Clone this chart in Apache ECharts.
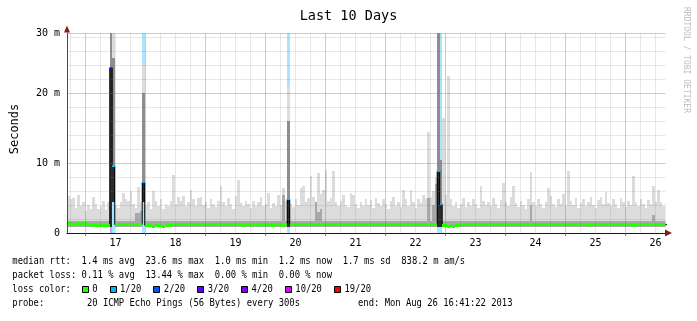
<!DOCTYPE html>
<html>
<head>
<meta charset="utf-8">
<title>Last 10 Days</title>
<script src="https://cdn.jsdelivr.net/npm/echarts@6.0.0/dist/echarts.min.js"></script>
<style>
html,body{margin:0;padding:0;background:#ffffff;}
#chart{width:697px;height:321px;}
</style>
</head>
<body>
<div id="chart"></div>
<script>
// ---------------- data ----------------
// time unit: fractional day of August 2013 (17.5 = Aug 17 12:00)
const axisStart = 16.69167;
const axisEnd = 26.66667;
const sampleStart = 16.69539;          // Aug 16 16:41:22 2013, first hourly sample
const sampleStepHours = 1;
const dayLabels = [17, 18, 19, 20, 21, 22, 23, 24, 25, 26];

// y axis (milliseconds); plot top sits at 28.6 ms, labelled "30 m"
const yTop = 200 / 7;
const yLabelValues = [0, 10, 20, yTop];
const yLabelTexts = ['0', '10 m', '20 m', '30 m'];

// hourly samples, one row per day (24 samples)
const pingMax = [
  5.3,4.8,5.0,3.6,5.4,3.9,4.4,3.2,4.0,3.5,5.2,4.1,3.4,3.9,4.6,3.3,4.4,31,31,4.0,3.6,4.4,5.7,4.9,
  4.6,6.0,4.2,3.6,6.6,4.5,23.8,4.0,4.4,3.5,6.0,4.6,3.8,4.8,3.4,4.2,3.9,4.6,8.3,4.1,5.2,4.6,5.3,3.8,
  4.4,6.1,4.8,3.9,5.0,5.2,4.0,4.5,3.6,4.9,4.2,3.7,4.6,6.7,4.4,3.8,5.0,4.1,3.5,5.3,7.6,4.3,3.9,4.6,
  4.2,3.6,4.6,3.9,4.4,5.2,3.8,4.1,5.7,3.6,4.3,3.9,5.4,4.0,6.4,4.6,21,4.2,3.7,4.8,4.0,6.4,6.7,4.5,
  5.0,8.1,5.2,4.4,8.6,5.6,6.2,9.0,4.6,5.0,8.8,4.5,3.8,4.6,5.5,4.0,3.7,5.7,5.4,4.2,3.6,4.4,3.9,4.8,
  4.0,4.7,3.6,5.0,4.3,3.8,4.9,4.2,3.5,4.6,5.1,3.9,4.4,3.7,6.2,4.8,3.9,6.2,4.5,3.6,4.9,4.3,5.4,5.0,
  14.5,5.2,6.0,8.0,31,10.4,16.4,5.5,22.4,4.8,3.8,4.5,3.6,4.2,5.0,3.7,4.4,3.9,4.8,4.1,3.6,6.7,4.6,4.0,
  4.4,3.8,5.0,4.2,3.6,4.7,7.2,4.5,3.9,5.1,6.7,4.3,3.7,4.6,4.0,3.5,4.8,8.7,4.4,3.8,4.9,4.2,3.6,4.5,
  6.4,5.3,4.2,3.7,4.8,4.1,5.6,3.9,8.8,4.6,4.0,5.0,3.6,4.3,4.9,3.8,4.4,5.2,4.0,3.6,4.7,5.1,4.2,5.8,
  4.3,3.8,4.9,4.1,3.6,5.0,4.4,3.7,4.6,4.0,8.1,4.5,3.9,4.8,4.2,3.6,4.7,4.1,6.7,4.4,6.2,4.5,3.9,4.3
];
const pingMin = [
  0.85,0.85,0.85,0.85,0.85,0.85,0.85,0.85,0.85,0.85,0.85,0.85,0.85,0.85,0.85,0.85,0.85,0.9,4.5,0.85,0.85,0.85,0.85,0.85,
  0.85,0.85,0.85,0.85,0.85,0.85,4.5,0.85,0.85,0.85,0.85,0.85,0.85,0.85,0.85,0.85,0.85,0.85,0.85,0.85,0.85,0.85,0.85,0.85,
  0.85,0.85,0.85,0.85,0.85,0.85,0.85,0.85,0.85,0.85,0.85,0.85,0.85,0.85,0.85,0.85,0.85,0.85,0.85,0.85,0.85,0.85,0.85,0.85,
  0.85,0.85,0.85,0.85,0.85,0.85,0.85,0.85,0.85,0.85,0.85,0.85,0.85,0.85,0.85,0.85,0.9,0.85,0.85,0.85,0.85,0.85,0.85,0.85,
  0.85,0.85,0.85,0.85,0.85,0.85,0.85,0.85,0.85,0.85,0.85,0.85,0.85,0.85,0.85,0.85,0.85,0.85,0.85,0.85,0.85,0.85,0.85,0.85,
  0.85,0.85,0.85,0.85,0.85,0.85,0.85,0.85,0.85,0.85,0.85,0.85,0.85,0.85,0.85,0.85,0.85,0.85,0.85,0.85,0.85,0.85,0.85,0.85,
  0.85,0.85,0.85,0.85,0.9,0.9,0.85,0.85,0.85,0.85,0.85,0.85,0.85,0.85,0.85,0.85,0.85,0.85,0.85,0.85,0.85,0.85,0.85,0.85,
  0.85,0.85,0.85,0.85,0.85,0.85,0.85,0.85,0.85,0.85,0.85,0.85,0.85,0.85,0.85,0.85,0.85,0.85,0.85,0.85,0.85,0.85,0.85,0.85,
  0.85,0.85,0.85,0.85,0.85,0.85,0.85,0.85,0.85,0.85,0.85,0.85,0.85,0.85,0.85,0.85,0.85,0.85,0.85,0.85,0.85,0.85,0.85,0.85,
  0.85,0.85,0.85,0.85,0.85,0.85,0.85,0.85,0.85,0.85,0.85,0.85,0.85,0.85,0.85,0.85,0.85,0.85,0.85,0.85,0.85,0.85,0.85,0.85
];
// upper edge of the dense (darker) part of the smoke
const pingUpper = [
  1.7,1.7,1.7,1.7,1.7,1.7,1.7,1.7,1.7,1.7,1.7,1.7,1.7,1.7,1.7,1.7,1.7,31,25,1.7,1.7,1.7,1.7,1.7,
  1.7,1.7,1.7,2.8,2.8,3.2,20,1.7,1.7,1.7,1.7,1.7,1.7,1.7,1.7,1.7,1.7,1.7,1.7,1.7,1.7,1.7,1.7,1.7,
  1.7,1.7,1.7,1.7,1.7,1.7,1.7,1.7,1.7,1.7,1.7,1.7,1.7,1.7,1.7,1.7,1.7,1.7,1.7,1.7,1.7,1.7,1.7,1.7,
  1.7,1.7,1.7,1.7,1.7,1.7,1.7,1.7,1.7,1.7,1.7,1.7,1.7,1.7,5.5,1.7,16,1.7,1.7,1.7,1.7,1.7,1.7,1.7,
  1.7,1.7,1.7,4.5,3.0,3.5,1.7,1.7,1.7,1.7,1.7,1.7,1.7,1.7,1.7,1.7,1.7,1.7,1.7,1.7,1.7,1.7,1.7,1.7,
  1.7,1.7,1.7,1.7,1.7,1.7,1.7,1.7,1.7,1.7,1.7,1.7,1.7,1.7,1.7,1.7,1.7,1.7,1.7,1.7,1.7,1.7,1.7,1.7,
  5.0,1.7,4.0,7.0,31,10.4,1.7,1.7,1.7,1.7,1.7,1.7,1.7,1.7,1.7,1.7,1.7,1.7,1.7,1.7,1.7,1.7,1.7,1.7,
  1.7,1.7,1.7,1.7,1.7,1.7,1.7,1.7,1.7,1.7,1.7,1.7,1.7,1.7,1.7,1.7,1.7,4.0,1.7,1.7,1.7,1.7,1.7,1.7,
  1.7,1.7,1.7,1.7,1.7,1.7,1.7,1.7,1.7,1.7,1.7,1.7,1.7,1.7,1.7,1.7,1.7,1.7,1.7,1.7,1.7,1.7,1.7,1.7,
  1.7,1.7,1.7,1.7,1.7,1.7,1.7,1.7,1.7,1.7,1.7,1.7,1.7,1.7,1.7,1.7,1.7,1.7,2.6,1.7,1.7,1.7,1.7,1.7
];
const median = [
  1.3,1.3,1.28,1.3,1.3,1.27,1.3,1.3,1.28,1.2,1.12,1.1,1.12,1.1,1.12,1.14,1.12,23.6,9.6,1.2,1.2,1.18,1.2,1.2,
  1.2,1.22,1.2,1.18,1.2,1.2,7.3,1.1,1.05,1.02,1.0,1.02,1.05,1.03,1.0,1.02,1.05,1.08,1.2,1.22,1.24,1.22,1.24,1.24,
  1.24,1.26,1.24,1.22,1.24,1.26,1.24,1.22,1.24,1.24,1.26,1.24,1.22,1.2,1.22,1.24,1.24,1.22,1.2,1.18,1.16,1.15,1.14,1.15,
  1.15,1.14,1.16,1.15,1.14,1.15,1.16,1.14,1.15,1.16,1.14,1.15,1.15,1.16,1.14,1.15,4.86,1.22,1.24,1.25,1.24,1.22,1.24,1.25,
  1.24,1.26,1.24,1.22,1.24,1.26,1.25,1.24,1.22,1.24,1.26,1.24,1.25,1.22,1.24,1.26,1.24,1.22,1.24,1.25,1.24,1.22,1.2,1.22,
  1.2,1.22,1.2,1.18,1.2,1.22,1.2,1.18,1.2,1.22,1.24,1.22,1.2,1.18,1.2,1.22,1.2,1.18,1.2,1.22,1.2,1.18,1.2,1.2,
  1.2,1.22,1.2,1.2,8.86,4.1,1.05,1.02,1.0,1.02,1.0,1.05,1.08,1.15,1.18,1.2,1.22,1.2,1.22,1.24,1.22,1.2,1.22,1.24,
  1.22,1.2,1.22,1.24,1.22,1.2,1.18,1.2,1.22,1.2,1.18,1.2,1.22,1.24,1.22,1.2,1.18,1.2,1.22,1.2,1.18,1.16,1.18,1.2,
  1.2,1.22,1.2,1.18,1.16,1.18,1.2,1.22,1.2,1.18,1.2,1.22,1.24,1.22,1.2,1.18,1.16,1.14,1.16,1.18,1.2,1.22,1.2,1.18,
  1.16,1.15,1.16,1.18,1.2,1.22,1.2,1.18,1.16,1.15,1.14,1.16,1.18,1.2,1.18,1.16,1.15,1.16,1.18,1.2,1.22,1.2,1.18,1.2
];
// lost pings out of 20 per sample
const lostPings = [
  0,0,0,0,0,0,0,0,0,0,0,0,0,0,0,0,0,3,1,0,0,0,0,0,
  0,0,0,0,0,0,1,0,0,0,0,0,0,0,0,0,0,0,0,0,0,0,0,0,
  0,0,0,0,0,0,0,0,0,0,0,0,0,0,0,0,0,0,0,0,0,0,0,0,
  0,0,0,0,0,0,0,0,0,0,0,0,0,0,0,0,1,0,0,0,0,0,0,0,
  0,0,0,0,0,0,0,0,0,0,0,0,0,0,0,0,0,0,0,0,0,0,0,0,
  0,0,0,0,0,0,0,0,0,0,0,0,0,0,0,0,0,0,0,0,0,0,0,0,
  0,0,0,0,1,1,0,0,0,0,0,0,0,0,0,0,0,0,0,0,0,0,0,0,
  0,0,0,0,0,0,0,0,0,0,0,0,0,0,0,0,0,0,0,0,0,0,0,0,
  0,0,0,0,0,0,0,0,0,0,0,0,0,0,0,0,0,0,0,0,0,0,0,0,
  0,0,0,0,0,0,0,0,0,0,0,0,0,0,0,0,0,0,0,0,0,0,0,0
];

const lossLevels = [0, 1, 2, 3, 4, 10, 19];
const lossLabels = ['0', '1/20', '2/20', '3/20', '4/20', '10/20', '19/20'];
const lossColors = ['#26ff00', '#00b8ff', '#0059ff', '#5e00ff', '#7e00ff', '#dd00ff', '#ff0000'];

const titleText = 'Last 10 Days';
const yName = 'Seconds';
const creditText = 'RRDTOOL / TOBI OETIKER';
const statLines = [
  'median rtt:  1.4 ms avg  23.6 ms max  1.0 ms min  1.2 ms now  1.7 ms sd  838.2 m am/s',
  'packet loss: 0.11 % avg  13.44 % max  0.00 % min  0.00 % now'
];
const lossLegendTitle = 'loss color:';
const probeText = 'probe:        20 ICMP Echo Pings (56 Bytes) every 300s';
const endText = 'end: Mon Aug 26 16:41:22 2013';

// ---------------- styling ----------------
const MONO = '"DejaVu Sans Mono", "Liberation Mono", monospace';
const MAJOR = 'rgba(222,79,79,0.38)';
const MINOR = 'rgba(128,128,128,0.18)';
const SMOKE_LIGHT = '#dcdcdc';
const SMOKE_MID = '#a8a8a8';
const SMOKE_SPREAD = '#8e8e8e';
const SMOKE_CORE = '#2c2c2c';
const CHAR_W = 5.33;

function lossClass(n) {
  let c = 0;
  for (let i = 0; i < lossLevels.length; i++) if (n >= lossLevels[i]) c = i;
  return c;
}
function lossTint(n) {
  const c = lossColors[lossClass(n)];
  const r = parseInt(c.slice(1, 3), 16), g = parseInt(c.slice(3, 5), 16), b = parseInt(c.slice(5, 7), 16);
  return 'rgba(' + r + ',' + g + ',' + b + ',0.35)';
}
const sampleTime = k => sampleStart + k * sampleStepHours / 24;

const smokeData = pingMax.map((mx, k) => [sampleTime(k), pingMin[k], pingUpper[k], mx, median[k], lostPings[k]]);
const medianData = median.map((m, k) => [sampleTime(k), m, lostPings[k]]);
const stepData = median.map((m, k) => [sampleTime(k), m]);
stepData.push([sampleTime(median.length), median[median.length - 1]]);

function clipBoxOf(params) {
  const cs = params.coordSys;
  return { x: cs.x, y: cs.y, width: cs.width, height: cs.height };
}

function renderSmoke(params, api) {
  const t = api.value(0), lo = api.value(1), up = api.value(2), hi = api.value(3), med = api.value(4), lost = api.value(5);
  const box = clipBoxOf(params);
  const xa = Math.round(api.coord([t, 0])[0]);
  const xb = Math.round(api.coord([t + sampleStepHours / 24, 0])[0]);
  const kids = [];
  function band(v0, v1, fill) {
    const y0 = Math.round(api.coord([t, Math.max(0, Math.min(v0, yTop))])[1]);
    const y1 = Math.round(api.coord([t, Math.max(0, Math.min(v1, yTop))])[1]);
    if (y0 <= y1) return;
    const r = echarts.graphic.clipRectByRect({ x: xa, y: y1, width: xb - xa, height: y0 - y1 }, box);
    if (r && r.width > 0 && r.height > 0) kids.push({ type: 'rect', shape: r, style: { fill: fill } });
  }
  if (lost > 0) band(0, yTop, lossTint(lost));
  band(lo, hi, SMOKE_LIGHT);
  band(lo, up, lost > 0 ? SMOKE_SPREAD : SMOKE_MID);
  if (lost > 0) band(lo, med, SMOKE_CORE);
  return { type: 'group', children: kids };
}

function renderMedian(params, api) {
  const t = api.value(0), m = api.value(1), lost = api.value(2);
  const box = clipBoxOf(params);
  const xa = Math.round(api.coord([t, 0])[0]);
  const xb = Math.round(api.coord([t + sampleStepHours / 24, 0])[0]);
  const yc = api.coord([t, Math.min(m, yTop)])[1];
  const cls = lossClass(lost);
  const h = cls === 0 ? 3 : 2;
  const r = echarts.graphic.clipRectByRect({ x: xa, y: Math.round(yc - h / 2), width: xb - xa, height: h }, box);
  if (!r || r.width <= 0) return null;
  return { type: 'rect', shape: r, style: { fill: lossColors[cls] } };
}

// vertical grid: every 6 hours, red at midnight, plus right frame
const vGrid = [];
for (let q = Math.ceil(axisStart * 4); q <= Math.floor(axisEnd * 4); q++) {
  vGrid.push({ xAxis: q / 4, lineStyle: { color: q % 4 === 0 ? MAJOR : MINOR } });
}
vGrid.push({ xAxis: axisEnd, lineStyle: { color: MAJOR } });

// ---------------- decorations (text) ----------------
function monoText(x, y, text, opts) {
  opts = opts || {};
  return {
    type: 'text', x: x, y: y, silent: true,
    scaleX: opts.scaleX == null ? 0.885 : opts.scaleX,
    rotation: opts.rotation || 0,
    z: 20,
    style: {
      text: text, x: 0, y: 0,
      font: (opts.size || 10) + 'px ' + MONO,
      fill: opts.color || '#000',
      align: opts.align || 'left', verticalAlign: 'middle',
      textAlign: opts.align || 'left', textVerticalAlign: 'middle'
    }
  };
}
const graphics = [];
graphics.push(monoText(348.5, 16, titleText, { size: 13.5, scaleX: 1, align: 'center' }));
graphics.push(monoText(15, 129, yName, { size: 12, scaleX: 1, align: 'center', rotation: Math.PI / 2 }));
graphics.push(monoText(686.5, 7, creditText, { size: 8, scaleX: 1, color: '#bdbdbd', rotation: -Math.PI / 2 }));
graphics.push(monoText(12.3, 261.7, statLines[0]));
graphics.push(monoText(12.3, 275.7, statLines[1]));
graphics.push(monoText(12.3, 289.4, lossLegendTitle));
let lx = 81.7;
lossLabels.forEach(function (lab, i) {
  graphics.push({ type: 'rect', silent: true, z: 20,
    shape: { x: Math.round(lx) + 0.5, y: 286.5, width: 6, height: 6 },
    style: { fill: lossColors[i], stroke: '#000', lineWidth: 1 } });
  graphics.push(monoText(lx + 10.5, 289.4, lab));
  lx = lx + 10.5 + lab.length * CHAR_W + 12;
});
graphics.push(monoText(12.3, 303.4, probeText));
graphics.push(monoText(358, 303.4, endText));

// ---------------- chart ----------------
const chart = echarts.init(document.getElementById('chart'), null, { renderer: 'canvas' });
chart.setOption({
  animation: false,
  backgroundColor: '#ffffff',
  grid: { left: 67, top: 33, width: 598.5, height: 200, containLabel: false },
  xAxis: [{
    type: 'value', min: axisStart, max: axisEnd, z: 6,
    axisLine: { show: true, onZero: false, lineStyle: { color: '#1a1a1a', width: 1 } },
    axisTick: { show: true, customValues: dayLabels, length: 3, lineStyle: { color: 'rgba(160,60,60,0.7)' } },
    axisLabel: {
      customValues: dayLabels.map(d => d + 0.5),
      formatter: v => String(Math.floor(v)),
      fontFamily: MONO, fontSize: 10, color: '#000', margin: 5
    },
    splitLine: { show: false }
  }, {
    type: 'value', min: axisStart, max: axisEnd, position: 'bottom', z: 7,
    axisLine: { show: true, onZero: false, symbol: ['none', 'triangle'], symbolSize: [7, 7], symbolOffset: [0, 3],
      lineStyle: { color: '#801f1f', opacity: 0 } },
    axisTick: { show: false }, axisLabel: { show: false }, splitLine: { show: false }
  }],
  yAxis: [{
    type: 'value', min: 0, max: yTop, interval: 2, z: 5,
    axisLine: { show: true, onZero: false, lineStyle: { color: '#4a4a4a', width: 1 } },
    axisTick: { show: false },
    axisLabel: {
      customValues: yLabelValues,
      formatter: v => {
        for (let i = 0; i < yLabelValues.length; i++) if (Math.abs(v - yLabelValues[i]) < 1e-6) return yLabelTexts[i];
        return '';
      },
      fontFamily: MONO, fontSize: 10, color: '#000', margin: 7
    },
    splitLine: { show: true, lineStyle: { color: [MAJOR, MINOR, MINOR, MINOR, MINOR], width: 1 } }
  }, {
    type: 'value', min: 0, max: yTop, position: 'left', z: 7,
    axisLine: { show: true, onZero: false, symbol: ['none', 'triangle'], symbolSize: [6, 7], symbolOffset: [0, 4],
      lineStyle: { color: '#801f1f', opacity: 0 } },
    axisTick: { show: false }, axisLabel: { show: false }, splitLine: { show: false }
  }],
  series: [
    {
      type: 'custom', name: 'smoke', z: 2, silent: true,
      xAxisIndex: 0, yAxisIndex: 0,
      data: smokeData, encode: { x: 0, y: [1, 3] },
      renderItem: renderSmoke
    },
    {
      type: 'line', name: 'median step', z: 3, silent: true,
      xAxisIndex: 0, yAxisIndex: 0,
      step: 'end', data: stepData, symbol: 'none', showSymbol: false,
      lineStyle: { color: '#000', width: 1 }
    },
    {
      type: 'custom', name: 'median rtt', z: 4, silent: true,
      xAxisIndex: 0, yAxisIndex: 0,
      data: medianData, encode: { x: 0, y: 1 },
      renderItem: renderMedian
    },
    {
      type: 'line', name: 'grid', z: 5, silent: true,
      xAxisIndex: 0, yAxisIndex: 0, data: [],
      markLine: {
        silent: true, symbol: ['none', 'none'], animation: false,
        label: { show: false },
        lineStyle: { type: 'solid', width: 1 },
        emphasis: { disabled: true },
        data: vGrid
      }
    }
  ],
  graphic: graphics
});
</script>
</body>
</html>
